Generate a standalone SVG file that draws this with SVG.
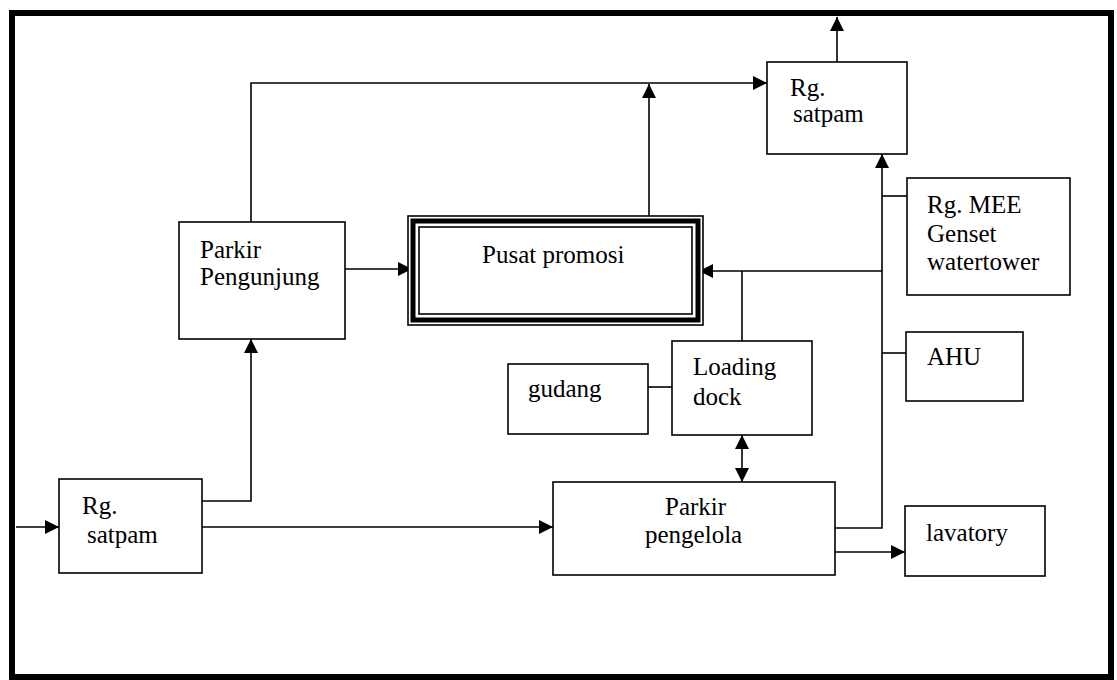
<svg xmlns="http://www.w3.org/2000/svg" width="1117" height="680" viewBox="0 0 1117 680">
<style>
.box{fill:#fff;stroke:#000;stroke-width:1.6}
.lbl{font-family:"Liberation Serif","Times New Roman",serif;font-size:25px;fill:#000}
.ln{fill:none;stroke:#000;stroke-width:1.6}
.arr{marker-end:url(#ah)}
</style>
<defs>
<marker id="ah" markerUnits="userSpaceOnUse" markerWidth="15" markerHeight="14" refX="14" refY="7" orient="auto-start-reverse">
<path d="M0,0 L14,7 L0,14 z" fill="#000"/>
</marker>
</defs>
<rect x="0" y="0" width="1117" height="680" fill="#fff"/>
<rect id="frame" x="12" y="13" width="1099" height="664" fill="none" stroke="#000" stroke-width="6"/>

<g id="connectors">
<path class="ln arr" d="M16,527 H59"/>
<path class="ln arr" d="M202,501 H251 V339"/>
<path class="ln arr" d="M202,527 H553"/>
<path class="ln arr" d="M251,222 V83 H767"/>
<path class="ln arr" d="M345,269 H412"/>
<path class="ln arr" d="M649,216 V84"/>
<path class="ln arr" d="M837,62 V17"/>
<path class="ln arr" d="M835,528 H882 V154"/>
<path class="ln" d="M882,196 H907"/>
<path class="ln arr" d="M882,271 H699"/>
<path class="ln" d="M882,353 H906"/>
<path class="ln" d="M742,341 V271"/>
<path class="ln" d="M648,387 H672"/>
<path class="ln arr" d="M742,435 V482" marker-start="url(#ah)"/>
<path class="ln arr" d="M835,552 H905"/>
</g>

<g id="satpam-bawah">
<rect class="box" x="59" y="479" width="143" height="94"/>
<text class="lbl" x="82" y="514">Rg.</text>
<text class="lbl" x="87" y="543">satpam</text>
</g>

<g id="parkir-pengunjung">
<rect class="box" x="179" y="222" width="166" height="117"/>
<text class="lbl" x="200" y="258">Parkir</text>
<text class="lbl" x="200" y="285">Pengunjung</text>
</g>

<g id="pusat-promosi">
<rect x="408" y="216" width="295" height="109" fill="#fff" stroke="#000" stroke-width="1.6"/>
<rect x="413" y="221" width="285" height="99" fill="none" stroke="#000" stroke-width="5"/>
<rect x="419" y="227" width="273" height="87" fill="none" stroke="#000" stroke-width="1.6"/>
<text class="lbl" x="482" y="263">Pusat promosi</text>
</g>

<g id="satpam-atas">
<rect class="box" x="767" y="62" width="140" height="92"/>
<text class="lbl" x="790" y="96">Rg.</text>
<text class="lbl" x="793" y="122">satpam</text>
</g>

<g id="rg-mee">
<rect class="box" x="907" y="178" width="163" height="117"/>
<text class="lbl" x="927" y="213">Rg. MEE</text>
<text class="lbl" x="927" y="242">Genset</text>
<text class="lbl" x="927" y="270">watertower</text>
</g>

<g id="ahu">
<rect class="box" x="906" y="332" width="117" height="69"/>
<text class="lbl" x="927" y="365">AHU</text>
</g>

<g id="gudang">
<rect class="box" x="508" y="364" width="140" height="70"/>
<text class="lbl" x="528" y="397">gudang</text>
</g>

<g id="loading-dock">
<rect class="box" x="672" y="341" width="140" height="94"/>
<text class="lbl" x="693" y="375">Loading</text>
<text class="lbl" x="693" y="405">dock</text>
</g>

<g id="parkir-pengelola">
<rect class="box" x="553" y="482" width="282" height="93"/>
<text class="lbl" x="665" y="515">Parkir</text>
<text class="lbl" x="645" y="543">pengelola</text>
</g>

<g id="lavatory">
<rect class="box" x="905" y="506" width="140" height="70"/>
<text class="lbl" x="926" y="541">lavatory</text>
</g>
</svg>
